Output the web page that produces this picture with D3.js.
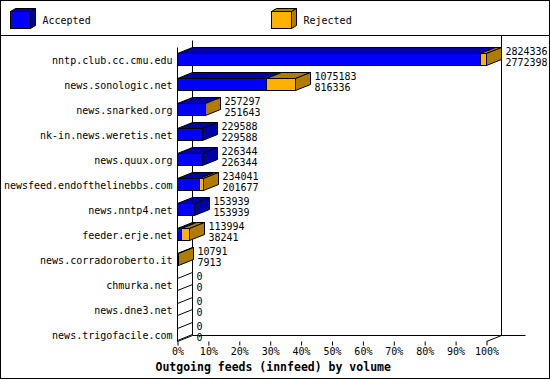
<!DOCTYPE html>
<html>
<head>
<meta charset="utf-8">
<script src="https://cdn.jsdelivr.net/npm/d3@7"></script>
<style>
  body { margin: 0; background: #fff; }
  svg text { font-family: "DejaVu Sans Mono", monospace; font-size: 10px; fill: #000; }
</style>
</head>
<body>
<div id="chart"></div>
<script>
// innfeed outgoing volume, per peer
const hosts = ["nntp.club.cc.cmu.edu", "news.sonologic.net", "news.snarked.org",
  "nk-in.news.weretis.net", "news.quux.org", "newsfeed.endofthelinebbs.com",
  "news.nntp4.net", "feeder.erje.net", "news.corradoroberto.it",
  "chmurka.net", "news.dne3.net", "news.trigofacile.com"];
const offered = [2824336, 1075183, 257297, 229588, 226344, 234041, 153939, 113994, 10791, 0, 0, 0];
const accepted = [2772398, 816336, 251643, 229588, 226344, 201677, 153939, 38241, 7913, 0, 0, 0];
const seriesNames = ["Accepted", "Rejected"];
const pctTicks = [0, 10, 20, 30, 40, 50, 60, 70, 80, 90, 100];

const width = 550, height = 380;
const dx = 15, dy = 6;          // depth offset of the 3d boxes
const half = 6;                 // half height of a bar front
const plotTop = 47, plotFloor = 341;

const front = ["#0000ff", "#ffb000"];
const shade = ["#0000a8", "#b07c00"];

const svg = d3.select('#chart').append('svg')
  .attr('width', width).attr('height', height);

const g = svg.append('g').attr('transform', 'translate(0.5,0.5)');

// frame + legend separator
g.append('rect').attr('x', 0).attr('y', 0).attr('width', width - 1).attr('height', height - 2)
  .attr('fill', 'none').attr('stroke', '#000');
g.append('line').attr('x1', 0).attr('x2', width - 1).attr('y1', 35).attr('y2', 35).attr('stroke', '#000');

// legend cubes
function box(sel, x, y, w, h, d1, d2, f, s) {
  sel.append('path')
    .attr('d', `M${x},${y}L${x + d1},${y - d2}L${x + w + d1},${y - d2}L${x + w},${y}Z`)
    .attr('fill', s).attr('stroke', '#000');
  sel.append('path')
    .attr('d', `M${x + w},${y}L${x + w + d1},${y - d2}L${x + w + d1},${y + h - d2}L${x + w},${y + h}Z`)
    .attr('fill', s).attr('stroke', '#000');
  sel.append('rect').attr('x', x).attr('y', y).attr('width', w).attr('height', h)
    .attr('fill', f).attr('stroke', '#000');
}
const legX = [10, 271];
seriesNames.forEach((name, i) => {
  box(g, legX[i], 11, 20, 17, 5, 3, front[i], shade[i]);
  g.append('text').attr('x', legX[i] + 32).attr('y', 23).text(name);
});

// scales
const maxTotal = d3.max(offered);
const x = d3.scaleLinear().domain([0, 100]).range([177, 486]);
const y = d3.scalePoint().domain(hosts).range([59, 334]);
const pct = v => v / maxTotal * 100;
const X = v => Math.round(x(pct(v)));

// walls and floor
const x0 = x(0), x1 = x(100);
const wall = [
  [x0, plotTop, x0, plotFloor],
  [x0 + dx, plotTop - 7, x0 + dx, plotFloor - dy],
  [x1 + dx, 35, x1 + dx, plotFloor - dy],
  [x0 + dx, plotFloor - dy, x1 + dx + 24, plotFloor - dy],
  [x0, plotFloor, x0 + dx, plotFloor - dy],
  [x1, plotFloor, x1 + dx, plotFloor - dy]
];
g.selectAll('.wall').data(wall).enter().append('line')
  .attr('x1', d => d[0]).attr('y1', d => d[1]).attr('x2', d => d[2]).attr('y2', d => d[3])
  .attr('stroke', '#000');

// x axis
const axis = g.append('g').attr('transform', `translate(0,${plotFloor})`)
  .call(d3.axisBottom(x).tickValues(pctTicks).tickSize(4).tickPadding(2).tickFormat(d => d + '%'));
axis.select('.domain').remove();
axis.selectAll('line').attr('stroke', '#000');
axis.selectAll('text').attr('font-family', '"DejaVu Sans Mono", monospace').attr('font-size', 10);

// host labels
g.selectAll('.host').data(hosts).enter().append('text')
  .attr('x', 172).attr('y', d => y(d) + 4)
  .attr('text-anchor', 'end').text(d => d);

// bars
hosts.forEach((h, i) => {
  const cy = y(h);
  const yt = cy - half, hh = half * 2;
  const segs = [[0, accepted[i]], [accepted[i], offered[i]]];
  const row = g.append('g');
  segs.forEach(([a, b], k) => {
    const xa = X(a), xb = X(b);
    if (xb <= xa) return;
    row.append('path')
      .attr('d', `M${xa},${yt}L${xa + dx},${yt - dy}L${xb + dx},${yt - dy}L${xb},${yt}Z`)
      .attr('fill', shade[k]).attr('stroke', '#000');
    row.append('rect').attr('x', xa).attr('y', yt).attr('width', xb - xa).attr('height', hh)
      .attr('fill', front[k]).attr('stroke', '#000');
  });
  const xe = X(offered[i]);
  const sideFill = offered[i] === 0 ? '#fff' : (offered[i] > accepted[i] ? shade[1] : shade[0]);
  row.append('path')
    .attr('d', `M${xe},${yt}L${xe + dx},${yt - dy}L${xe + dx},${yt + hh - dy}L${xe},${yt + hh}Z`)
    .attr('fill', sideFill).attr('stroke', '#000');
  row.append('text').attr('x', xe + dx + 4).attr('y', cy - 5).text(offered[i]);
  row.append('text').attr('x', xe + dx + 4).attr('y', cy + 6).text(accepted[i]);
});

// title
g.append('text').attr('x', 155).attr('y', 370)
  .attr('font-weight', 'bold').style('font-size', '11.5px')
  .text('Outgoing feeds (innfeed) by volume');
</script>
</body>
</html>
